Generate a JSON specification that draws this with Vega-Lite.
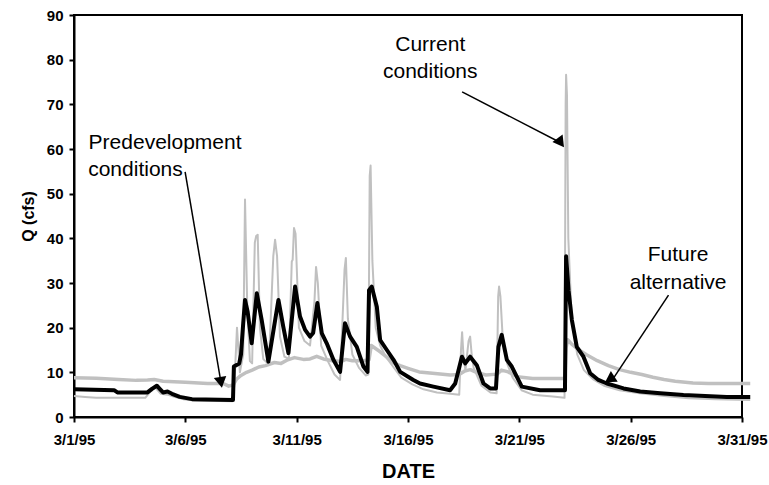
{
  "$schema": "https://vega.github.io/schema/vega-lite/v6.json",
  "width": 668,
  "height": 402,
  "autosize": {"type": "none"},
  "padding": {"left": 74, "top": 15, "right": 27, "bottom": 68},
  "background": "#ffffff",
  "config": {
    "font": "Liberation Sans",
    "view": {"stroke": "#000000", "strokeWidth": 2},
    "axis": {
      "grid": false,
      "domainColor": "#000000",
      "domainWidth": 2,
      "tickColor": "#000000",
      "tickWidth": 2,
      "tickSize": 5,
      "labelColor": "#000000",
      "labelFont": "Liberation Sans",
      "labelFontWeight": "bold",
      "labelFontSize": 15,
      "titleColor": "#000000",
      "titleFont": "Liberation Sans",
      "titleFontWeight": "bold"
    }
  },
  "datasets": {
    "flows": [
      {"series": "Predevelopment", "day": 1.0, "q": 8.8},
      {"series": "Predevelopment", "day": 2.0, "q": 8.7},
      {"series": "Predevelopment", "day": 3.0, "q": 8.4},
      {"series": "Predevelopment", "day": 3.8, "q": 8.2},
      {"series": "Predevelopment", "day": 4.3, "q": 8.3},
      {"series": "Predevelopment", "day": 4.6, "q": 8.4},
      {"series": "Predevelopment", "day": 5.0, "q": 8.0},
      {"series": "Predevelopment", "day": 6.0, "q": 7.8},
      {"series": "Predevelopment", "day": 7.0, "q": 7.5},
      {"series": "Predevelopment", "day": 7.7, "q": 7.5},
      {"series": "Predevelopment", "day": 7.95, "q": 6.9},
      {"series": "Predevelopment", "day": 8.15, "q": 7.2},
      {"series": "Predevelopment", "day": 8.3, "q": 8.5},
      {"series": "Predevelopment", "day": 8.5, "q": 9.3},
      {"series": "Predevelopment", "day": 8.75, "q": 10.0},
      {"series": "Predevelopment", "day": 9.0, "q": 10.5},
      {"series": "Predevelopment", "day": 9.3, "q": 11.2},
      {"series": "Predevelopment", "day": 9.6, "q": 11.5},
      {"series": "Predevelopment", "day": 10.0, "q": 12.2},
      {"series": "Predevelopment", "day": 10.3, "q": 12.0},
      {"series": "Predevelopment", "day": 10.6, "q": 12.8},
      {"series": "Predevelopment", "day": 10.9, "q": 13.3},
      {"series": "Predevelopment", "day": 11.3, "q": 12.9},
      {"series": "Predevelopment", "day": 11.6, "q": 13.0},
      {"series": "Predevelopment", "day": 11.9, "q": 13.6},
      {"series": "Predevelopment", "day": 12.2, "q": 13.0},
      {"series": "Predevelopment", "day": 12.6, "q": 12.6},
      {"series": "Predevelopment", "day": 13.0, "q": 12.4},
      {"series": "Predevelopment", "day": 13.2, "q": 12.9},
      {"series": "Predevelopment", "day": 13.5, "q": 12.6},
      {"series": "Predevelopment", "day": 14.0, "q": 12.6},
      {"series": "Predevelopment", "day": 14.25, "q": 12.8},
      {"series": "Predevelopment", "day": 14.35, "q": 16.0},
      {"series": "Predevelopment", "day": 14.75, "q": 14.6},
      {"series": "Predevelopment", "day": 15.05, "q": 13.4},
      {"series": "Predevelopment", "day": 15.35, "q": 12.1},
      {"series": "Predevelopment", "day": 15.65, "q": 11.5},
      {"series": "Predevelopment", "day": 16.0, "q": 10.9},
      {"series": "Predevelopment", "day": 16.5, "q": 10.1},
      {"series": "Predevelopment", "day": 17.1, "q": 9.8},
      {"series": "Predevelopment", "day": 17.9, "q": 9.4},
      {"series": "Predevelopment", "day": 18.3, "q": 9.5},
      {"series": "Predevelopment", "day": 18.55, "q": 10.3},
      {"series": "Predevelopment", "day": 18.8, "q": 10.6},
      {"series": "Predevelopment", "day": 19.1, "q": 9.9},
      {"series": "Predevelopment", "day": 19.5, "q": 9.4},
      {"series": "Predevelopment", "day": 20.0, "q": 9.6},
      {"series": "Predevelopment", "day": 20.2, "q": 10.5},
      {"series": "Predevelopment", "day": 20.5, "q": 10.1},
      {"series": "Predevelopment", "day": 20.9, "q": 9.0},
      {"series": "Predevelopment", "day": 21.6, "q": 8.6},
      {"series": "Predevelopment", "day": 23.05, "q": 8.6},
      {"series": "Predevelopment", "day": 23.1, "q": 15.5},
      {"series": "Predevelopment", "day": 23.17, "q": 17.3},
      {"series": "Predevelopment", "day": 23.35, "q": 16.3},
      {"series": "Predevelopment", "day": 23.6, "q": 15.3},
      {"series": "Predevelopment", "day": 24.0, "q": 14.0},
      {"series": "Predevelopment", "day": 24.5, "q": 12.6},
      {"series": "Predevelopment", "day": 25.0, "q": 11.5},
      {"series": "Predevelopment", "day": 25.5, "q": 10.6},
      {"series": "Predevelopment", "day": 26.0, "q": 10.0},
      {"series": "Predevelopment", "day": 26.5, "q": 9.5},
      {"series": "Predevelopment", "day": 27.0, "q": 8.9},
      {"series": "Predevelopment", "day": 27.5, "q": 8.4},
      {"series": "Predevelopment", "day": 28.0, "q": 8.0},
      {"series": "Predevelopment", "day": 28.8, "q": 7.6},
      {"series": "Predevelopment", "day": 29.5, "q": 7.5},
      {"series": "Predevelopment", "day": 31.37, "q": 7.5},

      {"series": "Current", "day": 1.0, "q": 4.7},
      {"series": "Current", "day": 1.5, "q": 4.5},
      {"series": "Current", "day": 2.0, "q": 4.3},
      {"series": "Current", "day": 4.2, "q": 4.3},
      {"series": "Current", "day": 4.4, "q": 5.5},
      {"series": "Current", "day": 4.65, "q": 6.6},
      {"series": "Current", "day": 4.9, "q": 5.2},
      {"series": "Current", "day": 5.2, "q": 5.0},
      {"series": "Current", "day": 5.5, "q": 4.5},
      {"series": "Current", "day": 5.9, "q": 4.0},
      {"series": "Current", "day": 6.4, "q": 3.7},
      {"series": "Current", "day": 8.1, "q": 3.5},
      {"series": "Current", "day": 8.2, "q": 7.0},
      {"series": "Current", "day": 8.32, "q": 20.0},
      {"series": "Current", "day": 8.45, "q": 10.0},
      {"series": "Current", "day": 8.6, "q": 14.0},
      {"series": "Current", "day": 8.68, "q": 48.7},
      {"series": "Current", "day": 8.78, "q": 25.0},
      {"series": "Current", "day": 8.9, "q": 12.5},
      {"series": "Current", "day": 9.0, "q": 12.0},
      {"series": "Current", "day": 9.12, "q": 39.0},
      {"series": "Current", "day": 9.18, "q": 40.5},
      {"series": "Current", "day": 9.25, "q": 40.8},
      {"series": "Current", "day": 9.35, "q": 20.0},
      {"series": "Current", "day": 9.5, "q": 13.0},
      {"series": "Current", "day": 9.75, "q": 11.8},
      {"series": "Current", "day": 9.95, "q": 36.0},
      {"series": "Current", "day": 10.03, "q": 39.7},
      {"series": "Current", "day": 10.12, "q": 36.0},
      {"series": "Current", "day": 10.25, "q": 18.0},
      {"series": "Current", "day": 10.45, "q": 13.5},
      {"series": "Current", "day": 10.65, "q": 13.0},
      {"series": "Current", "day": 10.78, "q": 34.8},
      {"series": "Current", "day": 10.82, "q": 35.2},
      {"series": "Current", "day": 10.88, "q": 42.3},
      {"series": "Current", "day": 10.95, "q": 41.0},
      {"series": "Current", "day": 11.1, "q": 20.0},
      {"series": "Current", "day": 11.35, "q": 17.0},
      {"series": "Current", "day": 11.6, "q": 16.0},
      {"series": "Current", "day": 11.8, "q": 26.0},
      {"series": "Current", "day": 11.87, "q": 33.6},
      {"series": "Current", "day": 11.95, "q": 30.0},
      {"series": "Current", "day": 12.1, "q": 16.0},
      {"series": "Current", "day": 12.4, "q": 12.5},
      {"series": "Current", "day": 12.7, "q": 9.5},
      {"series": "Current", "day": 12.95, "q": 8.3},
      {"series": "Current", "day": 13.15, "q": 33.0},
      {"series": "Current", "day": 13.21, "q": 35.6},
      {"series": "Current", "day": 13.3, "q": 22.0},
      {"series": "Current", "day": 13.5, "q": 14.0},
      {"series": "Current", "day": 13.8, "q": 11.0},
      {"series": "Current", "day": 14.1, "q": 9.3},
      {"series": "Current", "day": 14.22, "q": 9.5},
      {"series": "Current", "day": 14.28, "q": 54.0},
      {"series": "Current", "day": 14.32, "q": 56.3},
      {"series": "Current", "day": 14.4, "q": 35.0},
      {"series": "Current", "day": 14.55, "q": 20.0},
      {"series": "Current", "day": 14.75, "q": 16.0},
      {"series": "Current", "day": 15.0, "q": 13.5},
      {"series": "Current", "day": 15.4, "q": 10.8},
      {"series": "Current", "day": 15.7, "q": 8.8},
      {"series": "Current", "day": 16.2, "q": 7.3},
      {"series": "Current", "day": 16.7, "q": 6.2},
      {"series": "Current", "day": 17.3, "q": 5.5},
      {"series": "Current", "day": 17.9, "q": 5.2},
      {"series": "Current", "day": 18.3, "q": 5.0},
      {"series": "Current", "day": 18.38, "q": 15.0},
      {"series": "Current", "day": 18.43, "q": 19.0},
      {"series": "Current", "day": 18.5, "q": 13.0},
      {"series": "Current", "day": 18.58, "q": 10.5},
      {"series": "Current", "day": 18.72, "q": 17.0},
      {"series": "Current", "day": 18.79, "q": 18.0},
      {"series": "Current", "day": 18.86, "q": 14.0},
      {"series": "Current", "day": 18.95, "q": 11.0},
      {"series": "Current", "day": 19.3, "q": 7.0},
      {"series": "Current", "day": 19.7, "q": 5.5},
      {"series": "Current", "day": 19.98, "q": 5.3},
      {"series": "Current", "day": 20.05, "q": 27.0},
      {"series": "Current", "day": 20.09, "q": 29.2},
      {"series": "Current", "day": 20.15, "q": 27.0},
      {"series": "Current", "day": 20.25, "q": 18.0},
      {"series": "Current", "day": 20.45, "q": 12.0},
      {"series": "Current", "day": 20.7, "q": 8.8},
      {"series": "Current", "day": 21.1, "q": 6.0},
      {"series": "Current", "day": 21.6, "q": 5.0},
      {"series": "Current", "day": 22.5, "q": 4.6},
      {"series": "Current", "day": 23.03, "q": 4.3},
      {"series": "Current", "day": 23.08, "q": 70.0},
      {"series": "Current", "day": 23.1, "q": 76.6},
      {"series": "Current", "day": 23.14, "q": 72.0},
      {"series": "Current", "day": 23.2, "q": 40.0},
      {"series": "Current", "day": 23.35, "q": 22.0},
      {"series": "Current", "day": 23.6, "q": 14.0},
      {"series": "Current", "day": 23.9, "q": 10.5},
      {"series": "Current", "day": 24.3, "q": 8.5},
      {"series": "Current", "day": 24.8, "q": 7.0},
      {"series": "Current", "day": 25.5, "q": 6.0},
      {"series": "Current", "day": 26.4, "q": 5.3},
      {"series": "Current", "day": 27.5, "q": 4.7},
      {"series": "Current", "day": 28.6, "q": 4.2},
      {"series": "Current", "day": 29.8, "q": 4.0},
      {"series": "Current", "day": 31.37, "q": 3.8},

      {"series": "Future", "day": 1.0, "q": 6.2},
      {"series": "Future", "day": 2.8, "q": 6.0},
      {"series": "Future", "day": 2.95, "q": 5.5},
      {"series": "Future", "day": 4.3, "q": 5.5},
      {"series": "Future", "day": 4.5, "q": 6.3},
      {"series": "Future", "day": 4.72, "q": 7.0},
      {"series": "Future", "day": 4.85, "q": 6.3},
      {"series": "Future", "day": 5.0, "q": 5.5},
      {"series": "Future", "day": 5.2, "q": 5.7},
      {"series": "Future", "day": 5.4, "q": 5.2},
      {"series": "Future", "day": 5.75, "q": 4.5},
      {"series": "Future", "day": 6.3, "q": 4.0},
      {"series": "Future", "day": 8.14, "q": 3.8},
      {"series": "Future", "day": 8.18, "q": 11.3},
      {"series": "Future", "day": 8.42, "q": 12.0},
      {"series": "Future", "day": 8.5, "q": 14.0},
      {"series": "Future", "day": 8.6, "q": 21.0},
      {"series": "Future", "day": 8.68, "q": 26.2},
      {"series": "Future", "day": 8.8, "q": 23.5},
      {"series": "Future", "day": 8.98, "q": 16.5},
      {"series": "Future", "day": 9.21, "q": 27.7},
      {"series": "Future", "day": 9.43, "q": 21.7},
      {"series": "Future", "day": 9.73, "q": 12.4},
      {"series": "Future", "day": 10.18, "q": 26.2},
      {"series": "Future", "day": 10.4, "q": 20.2},
      {"series": "Future", "day": 10.63, "q": 14.3},
      {"series": "Future", "day": 10.93, "q": 29.2},
      {"series": "Future", "day": 11.15, "q": 22.5},
      {"series": "Future", "day": 11.38, "q": 19.5},
      {"series": "Future", "day": 11.6, "q": 18.0},
      {"series": "Future", "day": 11.74, "q": 18.8},
      {"series": "Future", "day": 11.93, "q": 25.5},
      {"series": "Future", "day": 12.13, "q": 18.7},
      {"series": "Future", "day": 12.35, "q": 16.5},
      {"series": "Future", "day": 12.65, "q": 12.8},
      {"series": "Future", "day": 12.95, "q": 10.1},
      {"series": "Future", "day": 13.17, "q": 21.0},
      {"series": "Future", "day": 13.4, "q": 18.0},
      {"series": "Future", "day": 13.7, "q": 15.7},
      {"series": "Future", "day": 14.0, "q": 11.3},
      {"series": "Future", "day": 14.18, "q": 10.1},
      {"series": "Future", "day": 14.25, "q": 28.4},
      {"series": "Future", "day": 14.37, "q": 29.2},
      {"series": "Future", "day": 14.6, "q": 24.7},
      {"series": "Future", "day": 14.75, "q": 17.2},
      {"series": "Future", "day": 15.05, "q": 15.0},
      {"series": "Future", "day": 15.35, "q": 12.8},
      {"series": "Future", "day": 15.65, "q": 10.1},
      {"series": "Future", "day": 16.24, "q": 8.3},
      {"series": "Future", "day": 16.54, "q": 7.5},
      {"series": "Future", "day": 17.14, "q": 6.8},
      {"series": "Future", "day": 17.89, "q": 6.0},
      {"series": "Future", "day": 18.12, "q": 7.5},
      {"series": "Future", "day": 18.42, "q": 13.5},
      {"series": "Future", "day": 18.57, "q": 12.0},
      {"series": "Future", "day": 18.79, "q": 13.5},
      {"series": "Future", "day": 19.09, "q": 11.6},
      {"series": "Future", "day": 19.39, "q": 7.5},
      {"series": "Future", "day": 19.69, "q": 6.4},
      {"series": "Future", "day": 19.95, "q": 6.4},
      {"series": "Future", "day": 20.06, "q": 15.7},
      {"series": "Future", "day": 20.21, "q": 18.4},
      {"series": "Future", "day": 20.44, "q": 12.8},
      {"series": "Future", "day": 20.66, "q": 11.3},
      {"series": "Future", "day": 20.89, "q": 9.0},
      {"series": "Future", "day": 21.11, "q": 6.8},
      {"series": "Future", "day": 21.93, "q": 6.0},
      {"series": "Future", "day": 23.05, "q": 6.0},
      {"series": "Future", "day": 23.1, "q": 36.0},
      {"series": "Future", "day": 23.21, "q": 28.4},
      {"series": "Future", "day": 23.36, "q": 21.7},
      {"series": "Future", "day": 23.58, "q": 15.7},
      {"series": "Future", "day": 23.88, "q": 13.5},
      {"series": "Future", "day": 24.18, "q": 9.8},
      {"series": "Future", "day": 24.55, "q": 8.3},
      {"series": "Future", "day": 24.93, "q": 7.5},
      {"series": "Future", "day": 25.68, "q": 6.4},
      {"series": "Future", "day": 26.43, "q": 5.7},
      {"series": "Future", "day": 27.33, "q": 5.3},
      {"series": "Future", "day": 28.37, "q": 4.9},
      {"series": "Future", "day": 30.32, "q": 4.5},
      {"series": "Future", "day": 31.37, "q": 4.5}
    ],
    "notes": [
      {"label": "Predevelopment", "day": 5.09, "q": 61.3},
      {"label": "conditions", "day": 3.76, "q": 55.3},
      {"label": "Current", "day": 17.0, "q": 83.3},
      {"label": "conditions", "day": 17.0, "q": 77.2},
      {"label": "Future", "day": 28.13, "q": 36.3},
      {"label": "alternative", "day": 28.13, "q": 30.0}
    ],
    "arrows": [
      {"arrow": "pre", "day": 5.99, "q": 54.9, "day2": 7.6, "q2": 7.75},
      {"arrow": "cur", "day": 18.43, "q": 72.8, "day2": 22.86, "q2": 61.4},
      {"arrow": "fut", "day": 27.7, "q": 27.3, "day2": 25.2, "q2": 8.48}
    ]
  },
  "encoding": {
    "x": {
      "field": "day",
      "type": "quantitative",
      "scale": {"domain": [1, 31], "nice": false, "zero": false},
      "axis": {
        "title": "DATE",
        "values": [1, 6, 11, 16, 21, 26, 31],
        "labelExpr": "'3/' + datum.value + '/95'",
        "titleFontSize": 20,
        "labelPadding": 10,
        "titlePadding": 14,
        "labelFlush": false
      }
    },
    "y": {
      "field": "q",
      "type": "quantitative",
      "scale": {"domain": [0, 90], "nice": false},
      "axis": {
        "title": "Q (cfs)",
        "values": [0, 10, 20, 30, 40, 50, 60, 70, 80, 90],
        "titleFontSize": 16,
        "labelPadding": 6,
        "titlePadding": 10
      }
    }
  },
  "layer": [
    {
      "data": {"name": "flows"},
      "transform": [{"filter": "datum.series === 'Predevelopment'"}],
      "mark": {"type": "line", "color": "#c0c0c0", "strokeWidth": 3.5, "strokeJoin": "round"}
    },
    {
      "data": {"name": "flows"},
      "transform": [{"filter": "datum.series === 'Current'"}],
      "mark": {"type": "line", "color": "#c0c0c0", "strokeWidth": 2, "strokeJoin": "round"}
    },
    {
      "data": {"name": "flows"},
      "transform": [{"filter": "datum.series === 'Future'"}],
      "mark": {"type": "line", "color": "#000000", "strokeWidth": 4, "strokeJoin": "round"}
    },
    {
      "data": {"name": "arrows"},
      "mark": {"type": "rule", "color": "#000000", "strokeWidth": 1.5},
      "encoding": {
        "x2": {"field": "day2"},
        "y2": {"field": "q2"}
      }
    },
    {
      "data": {"name": "arrows"},
      "mark": {"type": "point", "shape": "triangle-up", "filled": true, "color": "#000000", "size": 160, "opacity": 1},
      "encoding": {
        "x": {"field": "day2", "type": "quantitative"},
        "y": {"field": "q2", "type": "quantitative"},
        "angle": {"field": "arrow", "type": "nominal", "scale": {"domain": ["pre", "cur", "fut"], "range": [170.3, 117.2, 213.4]}, "legend": null}
      }
    },
    {
      "data": {"name": "notes"},
      "mark": {"type": "text", "font": "Liberation Sans", "fontSize": 21, "color": "#000000", "align": "center", "baseline": "middle"},
      "encoding": {
        "text": {"field": "label"}
      }
    }
  ]
}
